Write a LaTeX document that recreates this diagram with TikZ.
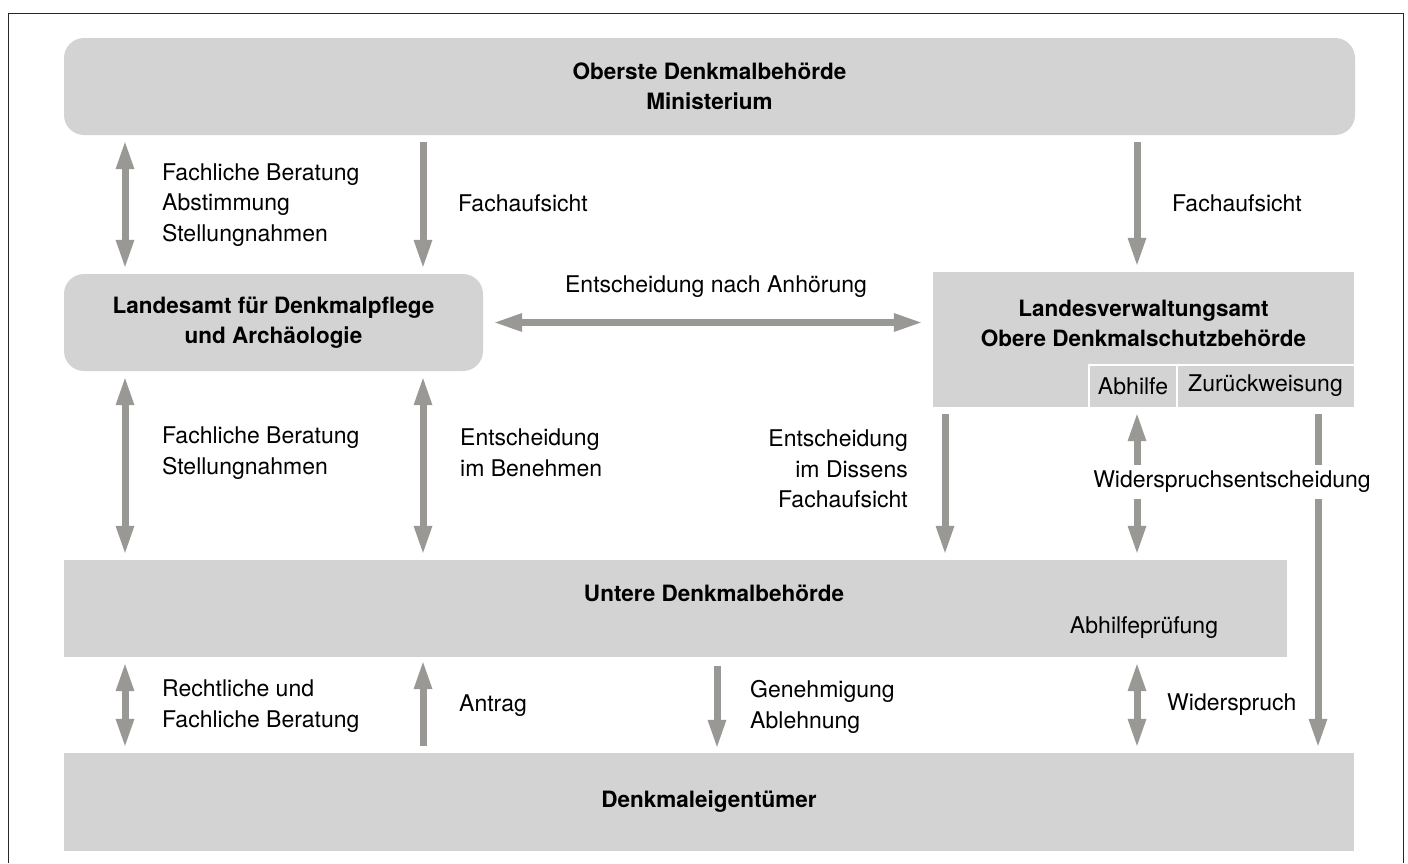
\documentclass[tikz,border=0pt]{standalone}
\usepackage{fontspec}
\setmainfont{TeX Gyre Heros}
\usetikzlibrary{arrows.meta,positioning}
\definecolor{boxgray}{RGB}{211,211,211}
\definecolor{arrowgray}{RGB}{153,152,148}

\begin{document}
\begin{tikzpicture}[
  x=1pt, y=-1pt,
  every node/.style={font=\fontsize{23}{30.5}\selectfont},
  title/.style={inner sep=0,align=center,font=\fontsize{22.5}{30.5}\selectfont\bfseries},
  amtbox/.style={title,fill=boxgray},
  roundbox/.style={amtbox,rounded corners=20pt},
  subbox/.style={fill=boxgray,inner sep=0,minimum height=42pt},
  divider/.style={draw=white,line width=1.5pt},
  lbl/.style={inner sep=0,align=left,anchor=west},
  flow/.style={draw=arrowgray,line width=7pt,-{Triangle[length=27pt,width=19pt,line width=0pt]},
    shorten <=7pt,shorten >=7pt},
  twoway/.style={flow,{Triangle[length=27pt,width=19pt,line width=0pt]}-{Triangle[length=27pt,width=19pt,line width=0pt]}}
]
  \useasboundingbox (0,0) rectangle (1408,863);
  \draw[line width=1pt,black!85] (8,863) -- (8,13) -- (1403,13) -- (1403,863);

  \node[roundbox,minimum width=1291pt,minimum height=97pt] (ober) at (709.5,86.5)
    {Oberste Denkmalbehörde\\Ministerium};
  \node[roundbox,minimum width=419pt,minimum height=97pt] (amt) at (273.5,322.5)
    {Landesamt für Denkmalpflege\\und Archäologie};
  \node[amtbox,minimum width=421pt,minimum height=135pt] (lva) at (1143.5,339.5) {};
  \node[title] (lvatext) at (1143.5,323.5) {Landesverwaltungsamt\\Obere Denkmalschutzbehörde};
  \node[subbox,minimum width=88pt] (abhilfe) at (1133,386) {Abhilfe};
  \node[subbox,minimum width=177pt] (zurueck) at (1265.5,386) {Zurückweisung};
  \draw[divider] (abhilfe.south west) |- (zurueck.north east);
  \draw[divider] (zurueck.south west) -- (zurueck.north west);
  \node[amtbox,minimum width=1223pt,minimum height=97pt] (untere) at (675.5,608.5) {};
  \node[title] (unteretext) at (714,593) {Untere Denkmalbehörde};
  \node (abhilfepr) at (1144,628) {Abhilfeprüfung};
  \node[amtbox,minimum width=1290pt,minimum height=98pt] (eigen) at (709,802) {Denkmaleigentümer};

  \coordinate (c1) at (125,0);
  \coordinate (c2) at (423,0);
  \coordinate (c3) at (717,0);
  \coordinate (c4) at (945,0);
  \coordinate (c5) at (1137,0);
  \coordinate (c6) at (1318,0);

  \draw[twoway] (ober.south -| c1) -- (amt.north -| c1);
  \draw[flow] (ober.south -| c2) -- (amt.north -| c2);
  \draw[flow] (ober.south -| c5) -- (lva.north -| c5);
  \draw[twoway,shorten <=12pt,shorten >=12pt] (amt.east) -- (amt.east -| lva.west);
  \draw[twoway] (amt.south -| c1) -- (untere.north -| c1);
  \draw[twoway] (amt.south -| c2) -- (untere.north -| c2);
  \draw[flow] (lva.south -| c4) -- (untere.north -| c4);
  \draw[twoway] (abhilfe.south -| c5) -- (untere.north -| c5);
  \draw[flow] (zurueck.south -| c6) -- (eigen.north -| c6);
  \draw[twoway] (untere.south -| c1) -- (eigen.north -| c1);
  \draw[flow,shorten >=5pt] (eigen.north -| c2) -- (untere.south -| c2);
  \draw[flow,shorten <=9pt,shorten >=6pt] (untere.south -| c3) -- (eigen.north -| c3);
  \draw[twoway] (untere.south -| c5) -- (eigen.north -| c5);

  \node[lbl] (beratung) at (162,205) {Fachliche Beratung\\Abstimmung\\Stellungnahmen};
  \node[lbl] (aufsichtL) at (458,203) {Fachaufsicht};
  \node[lbl] (aufsichtR) at (1172,203) {Fachaufsicht};
  \node[inner sep=0] (anhoerung) at (716,287) {Entscheidung nach Anhörung};
  \node[lbl] (stellung) at (162,453) {Fachliche Beratung\\Stellungnahmen};
  \node[lbl] (benehmen) at (460,453) {Entscheidung\\im Benehmen};
  \node[inner sep=0,align=right,anchor=east] (dissens) at (908,469)
    {Entscheidung\\im Dissens\\Fachaufsicht};
  \node[fill=white,inner xsep=0,inner ysep=6pt] (wentsch) at (1232,482) {Widerspruchsentscheidung};
  \node[lbl] (rechtlich) at (162,706) {Rechtliche und\\Fachliche Beratung};
  \node[lbl] (antrag) at (459,706) {Antrag};
  \node[lbl] (genehm) at (750,707) {Genehmigung\\Ablehnung};
  \node[lbl] (widerspruch) at (1167,705) {Widerspruch};
\end{tikzpicture}
\end{document}
